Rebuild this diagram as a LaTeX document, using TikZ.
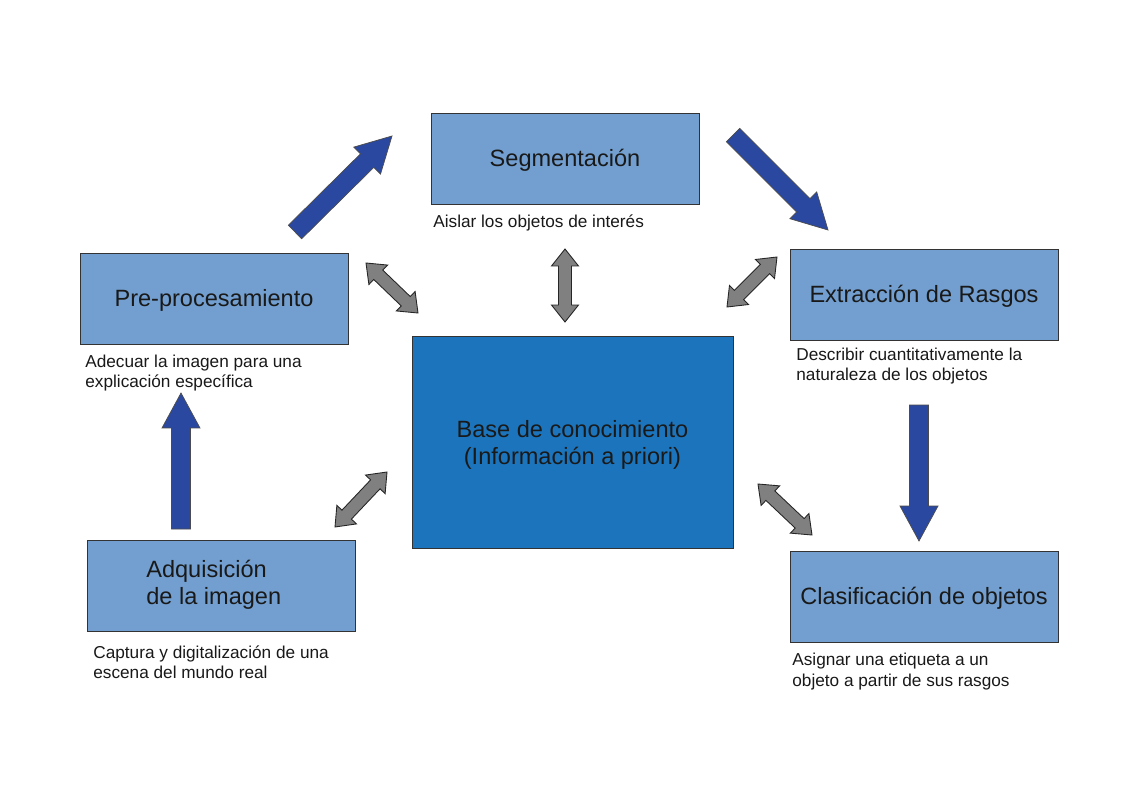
\documentclass[tikz,border=0pt]{standalone}
\usepackage{fontspec}
\setmainfont{Liberation Sans}
\usetikzlibrary{calc}
\definecolor{boxblue}{HTML}{729FCF}
\definecolor{coreblue}{HTML}{1C75BC}
\definecolor{arrowblue}{HTML}{2A489F}
\definecolor{arrowgray}{HTML}{808080}
\newcommand{\blkarrow}[2]{%
  \coordinate (hh) at ($(#2)!0.70cm!(#1)$);
  \draw[bluearrow] ($(#1)!0.19cm!90:(#2)$) -- ($(hh)!0.19cm!-90:(#1)$) -- ($(hh)!0.38cm!-90:(#1)$) -- (#2) -- ($(hh)!0.38cm!90:(#1)$) -- ($(hh)!0.19cm!90:(#1)$) -- ($(#1)!0.19cm!-90:(#2)$) -- cycle;}
\newcommand{\dblarrow}[2]{%
  \coordinate (ha) at ($(#1)!0.34cm!(#2)$);
  \coordinate (hb) at ($(#2)!0.34cm!(#1)$);
  \draw[grayarrow] (#1) -- ($(ha)!0.27cm!90:(#2)$) -- ($(ha)!0.13cm!90:(#2)$) -- ($(hb)!0.13cm!-90:(#1)$) -- ($(hb)!0.27cm!-90:(#1)$) -- (#2) -- ($(hb)!0.27cm!90:(#1)$) -- ($(hb)!0.13cm!90:(#1)$) -- ($(ha)!0.13cm!-90:(#2)$) -- ($(ha)!0.27cm!-90:(#2)$) -- cycle;}
\begin{document}
\begin{tikzpicture}[x=0.02cm,y=-0.02cm,
  stage/.style={draw=black!80, line width=0.5pt, fill=boxblue, minimum width=5.36cm, minimum height=1.82cm, inner sep=0pt, text height=1.1em, text depth=0.2em, font=\fontsize{13.4}{15.8}\selectfont, text=black!90},
  core/.style={draw=black!80, line width=0.5pt, fill=coreblue, minimum width=6.42cm, minimum height=4.24cm},
  bigtext/.style={inner sep=0pt, align=center, font=\fontsize{13.4}{15.4}\selectfont, text=black!90},
  caption/.style={anchor=base west, inner sep=0pt, align=left, font=\fontsize{9.8}{11.4}\selectfont, text=black!90},
  bluearrow/.style={fill=arrowblue, draw=black!70, line width=0.4pt, line join=miter},
  grayarrow/.style={fill=arrowgray, draw=black!85, line width=0.5pt, line join=miter}]
\useasboundingbox (0,0) rectangle (1123,794);
\fill[white] (0,0) rectangle (1123,794);
% boxes
\node[stage] (seg) at (565,158.5) {Segmentación};
\node[stage] (pre) at (214,298.5) {Pre-procesamiento};
\node[stage] (ext) at (924,294.5) {Extracción de Rasgos};
\node[stage] (adq) at (221,586) {};
\node[bigtext, anchor=west, align=left] (adqt) at (146,585) {Adquisición\\de la imagen};
\node[stage] (cla) at (924,596.5) {Clasificación de objetos};
\node[core] (base) at (572.5,442) {};
\node[bigtext] (baset) at (572.5,445) {Base de conocimiento\\(Información a priori)};
% captions (base anchor = last line)
\node[caption] (cseg) at (433,227.5) {Aislar los objetos de interés};
\node[caption] (cpre) at (85,387.5) {Adecuar la imagen para una\\explicación específica};
\node[caption] (cext) at (796,380.5) {Describir cuantitativamente la\\naturaleza de los objetos};
\node[caption] (cadq) at (93,678.5) {Captura y digitalización de una\\escena del mundo real};
\node[caption] (ccla) at (792,686) {Asignar una etiqueta a un\\objeto a partir de sus rasgos};
% blue flow arrows
\coordinate (b1a) at (295,232); \coordinate (b1b) at (392,136);
\coordinate (b2a) at (733,135); \coordinate (b2b) at (828,230);
\coordinate (b3a) at (919,405); \coordinate (b3b) at (919,541);
\coordinate (b4a) at (181,529); \coordinate (b4b) at (181,393);
\blkarrow{b1a}{b1b}
\blkarrow{b2a}{b2b}
\blkarrow{b3a}{b3b}
\blkarrow{b4a}{b4b}
% gray double arrows
\coordinate (g1a) at (366,263); \coordinate (g1b) at (418,313);
\coordinate (g2a) at (565,249); \coordinate (g2b) at (565,322);
\coordinate (g3a) at (777,257); \coordinate (g3b) at (727,307);
\coordinate (g4a) at (758,484); \coordinate (g4b) at (812,535);
\coordinate (g5a) at (387,472); \coordinate (g5b) at (335,527);
\dblarrow{g1a}{g1b}
\dblarrow{g2a}{g2b}
\dblarrow{g3a}{g3b}
\dblarrow{g4a}{g4b}
\dblarrow{g5a}{g5b}
\end{tikzpicture}
\end{document}
